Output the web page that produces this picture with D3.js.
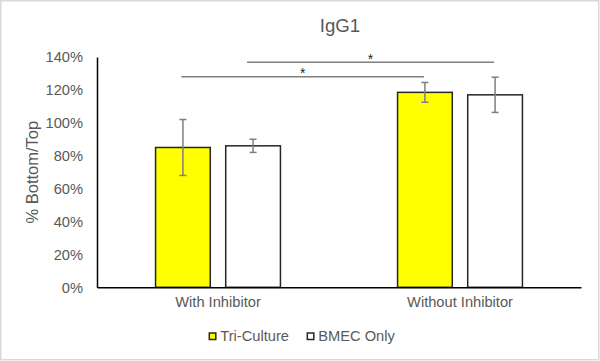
<!DOCTYPE html>
<html>
<head>
<meta charset="utf-8">
<script src="https://cdn.jsdelivr.net/npm/d3@7"></script>
<style>
  html, body { margin: 0; padding: 0; background: #fff; }
  svg { display: block; }
  text { font-family: "Liberation Sans", Arial, sans-serif; }
</style>
</head>
<body>
<svg id="chart" width="600" height="361"></svg>
<script>
// ---- data ----
const title = "IgG1";
const categories = ["With Inhibitor", "Without Inhibitor"];
const seriesNames = ["Tri-Culture", "BMEC Only"];
const triCulture = [85, 118.5];
const triCultureErr = [17, 6];
const bmecOnly = [86, 117];
const bmecOnlyErr = [4, 10.7];
const yTicks = [0, 20, 40, 60, 80, 100, 120, 140];
const yLabel = "% Bottom/Top";
// significance brackets: [series index, level in %]
const sigSeries = [0, 1];
const sigLevels = [128, 136.8];
const sigLabels = ["*", "*"];

// ---- drawing ----
(function () {
const W = 600, H = 361;
const svg = d3.select("#chart");
const fills = ["#ffff00", "#ffffff"];
const values = [triCulture, bmecOnly];
const errs = [triCultureErr, bmecOnlyErr];

const pLeft = 97, pRight = 581, pTop = 57, pBottom = 287.3;

svg.append("rect").attr("x", 0.75).attr("y", 0.75).attr("width", W - 2).attr("height", H - 2)
  .attr("fill", "#fff").attr("stroke", "#d9d9d9").attr("stroke-width", 1.5);

const y = d3.scaleLinear().domain([0, 140]).range([pBottom, pTop]);
const x0 = d3.scaleBand().domain(categories).range([pLeft, pRight]).padding(0);
const bw = x0.bandwidth();
const x1 = d3.scaleBand().domain(seriesNames).range([bw * 0.242, bw * 0.758]).paddingInner(0.22);

// title
svg.append("text").attr("x", (pLeft + pRight) / 2 + 1).attr("y", 32)
  .attr("text-anchor", "middle").attr("font-size", 18.67).attr("fill", "#595959").text(title);

// y axis
const yAxis = d3.axisLeft(y).tickValues(yTicks).tickFormat(d => d + "%").tickSize(0).tickPadding(14);
const gy = svg.append("g").attr("transform", `translate(${pLeft},0)`).call(yAxis);
gy.select(".domain").attr("stroke", "#000").attr("stroke-width", 1.5);
gy.selectAll("text").attr("font-size", 14.67).attr("fill", "#595959")
  .attr("font-family", '"Liberation Sans", Arial, sans-serif');

svg.append("text").attr("transform", `translate(38,${(pTop + pBottom) / 2}) rotate(-90)`)
  .attr("text-anchor", "middle").attr("font-size", 16.5).attr("fill", "#595959").text(yLabel);

// bars
categories.forEach((c, ci) => {
  seriesNames.forEach((s, si) => {
    const v = values[si][ci];
    svg.append("rect")
      .attr("x", x0(c) + x1(s)).attr("y", y(v))
      .attr("width", x1.bandwidth()).attr("height", y(0) - y(v))
      .attr("fill", fills[si]).attr("stroke", "#262626").attr("stroke-width", 1.5);
  });
});

// x axis
const xAxis = d3.axisBottom(x0).tickSize(0).tickPadding(9);
const gx = svg.append("g").attr("transform", `translate(0,${pBottom})`).call(xAxis);
gx.select(".domain").attr("stroke", "#000").attr("stroke-width", 1.5);
gx.selectAll("text").attr("font-size", 14.67).attr("fill", "#595959")
  .attr("font-family", '"Liberation Sans", Arial, sans-serif');

// error bars
categories.forEach((c, ci) => {
  seriesNames.forEach((s, si) => {
    const v = values[si][ci], e = errs[si][ci];
    const cx = x0(c) + x1(s) + x1.bandwidth() / 2;
    const g = svg.append("g").attr("stroke", "#7f7f7f").attr("stroke-width", 1.5);
    g.append("line").attr("x1", cx).attr("x2", cx).attr("y1", y(v + e)).attr("y2", y(v - e));
    [v + e, v - e].forEach(t => g.append("line").attr("x1", cx - 3.5).attr("x2", cx + 3.5)
      .attr("y1", y(t)).attr("y2", y(t)));
  });
});

// significance lines
sigSeries.forEach((si, k) => {
  const s = seriesNames[si];
  const xa = x0(categories[0]) + x1(s) + x1.bandwidth() / 2 - (si === 1 ? 6 : 1.5);
  const xb = x0(categories[1]) + x1(s) + x1.bandwidth() / 2 - 1;
  svg.append("line").attr("x1", xa).attr("x2", xb).attr("y1", y(sigLevels[k])).attr("y2", y(sigLevels[k]))
    .attr("stroke", "#7f7f7f").attr("stroke-width", 1.5);
  svg.append("text").attr("x", (xa + xb) / 2).attr("y", y(sigLevels[k]) + 1.5)
    .attr("text-anchor", "middle").attr("font-size", 14).attr("fill", "#262626").text(sigLabels[k]);
});

// legend
const legX = [209.3, 307.3];
seriesNames.forEach((s, si) => {
  svg.append("rect").attr("x", legX[si]).attr("y", 333).attr("width", 6.5).attr("height", 6.5)
    .attr("fill", fills[si]).attr("stroke", "#262626").attr("stroke-width", 1.5);
  svg.append("text").attr("x", legX[si] + 11).attr("y", 340.5).attr("font-size", 14.67)
    .attr("fill", "#595959").text(s);
});
})();
</script>
</body>
</html>
